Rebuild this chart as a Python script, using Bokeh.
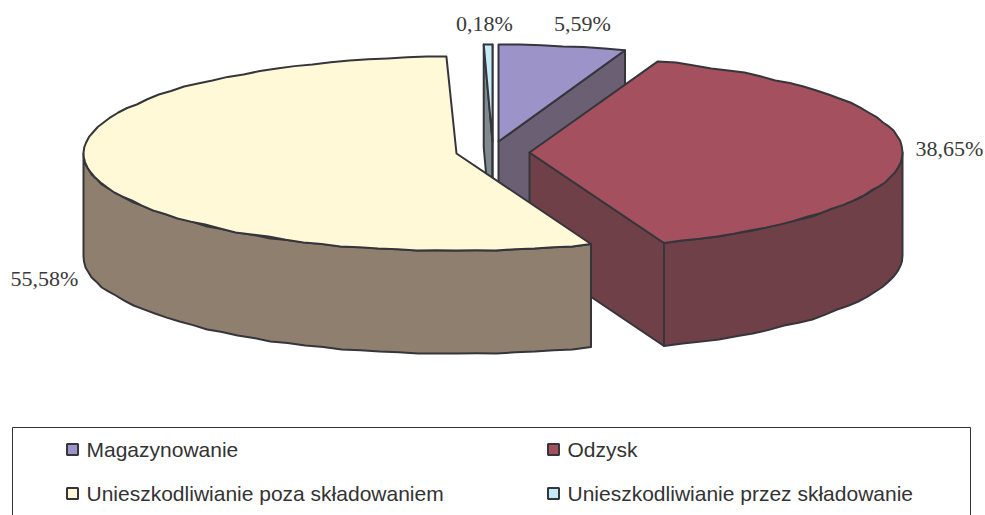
import numpy as np
from bokeh.plotting import figure
from bokeh.models import Range1d
from bokeh.core.properties import value
from bokeh.embed import file_html
from bokeh.resources import INLINE

categories = ["Magazynowanie", "Odzysk", "Unieszkodliwianie poza składowaniem", "Unieszkodliwianie przez składowanie"]
shares = [5.59, 38.65, 55.58, 0.18]
labels = ["5,59%", "38,65%", "55,58%", "0,18%"]

top_colors = ["#9C93C8", "#A5505F", "#FFF9D8", "#C5EBF9"]
side_colors = ["#6B6073", "#704048", "#8F7F6E", "#7F8A8F"]
apex_x = [498, 529, 456, 492]
apex_y = [141, 152, 153, 141]
sweep_pad = [(0, -0.3), (0, -0.4), (-0.4, -0.9), (-0.7, 0)]   # drawn sweep pads, degrees
cut_faces = [(-1,), (-1,), (), (0, -1)]                       # which cut edges show a wall
label_x = [582, 949, 44, 484]
label_y = [23, 148, 278, 23]

RX, RY, DEPTH = 373, 97, 103
INK = "#35353B"
W, H = 985, 515

p = figure(width=W, height=H, x_range=Range1d(0, W), y_range=Range1d(H, 0),
           output_backend="svg", toolbar_location=None, min_border=0,
           outline_line_color=None, background_fill_color="white")
p.axis.visible = False
p.grid.visible = False


def arc(cx, cy, a0, a1, step=3.0):
    n = max(2, int(abs(a1 - a0) / step) + 1)
    t = np.radians(np.linspace(a0, a1, n))
    x = cx + RX * np.sin(t)
    y = cy - RY * np.cos(t)
    inner = (np.arange(n) % 2 == 1) & (np.arange(n) < n - 1)
    y = np.where(inner, np.round(y / 2) * 2, y)
    return x, y


def patch(x, y, color):
    p.patch(list(x), list(y), fill_color=color, line_color=INK, line_width=2, line_join="round")


edges = np.concatenate([[0], np.cumsum(shares)]) * 3.6


def draw_slice(i):
    a0 = edges[i] + sweep_pad[i][0]
    a1 = edges[i + 1] + sweep_pad[i][1]
    cx, cy = apex_x[i], apex_y[i]
    side, top = side_colors[i], top_colors[i]
    ax, ay = arc(cx, cy, a0, a1)
    for k in cut_faces[i]:
        patch([cx, ax[k], ax[k], cx], [cy, ay[k], ay[k] + DEPTH, cy + DEPTH], side)
    lo, hi = max(a0, 90), min(a1, 270)
    if hi > lo:
        wx, wy = arc(cx, cy, lo, hi)
        patch(np.concatenate([wx, wx[::-1]]), np.concatenate([wy, wy[::-1] + DEPTH]), side)
    patch(np.concatenate([[cx], ax]), np.concatenate([[cy], ay]), top)


for i in (0, 3, 1, 2):
    draw_slice(i)

p.text(label_x, label_y, text=labels, text_font=value("Liberation Serif"), text_font_size="22px",
       text_color="#3A3A3A", text_align="center", text_baseline="middle")

# legend box, open at the bottom where the page cuts it off
p.line([12, 12, 970, 970], [520, 427, 427, 520], line_color="#333333", line_width=1)
leg_x = [66, 547, 66, 547]
leg_y = [449, 449, 493, 493]
p.scatter([x + 6 for x in leg_x], leg_y, marker="square", size=11, fill_color=top_colors,
          line_color=INK, line_width=2)
p.text([x + 20 for x in leg_x], leg_y, text=categories, text_font=value("Liberation Sans"),
       text_font_size="21px", text_color="#333333", text_baseline="middle")

open("out.html", "w").write(file_html(p, INLINE))
